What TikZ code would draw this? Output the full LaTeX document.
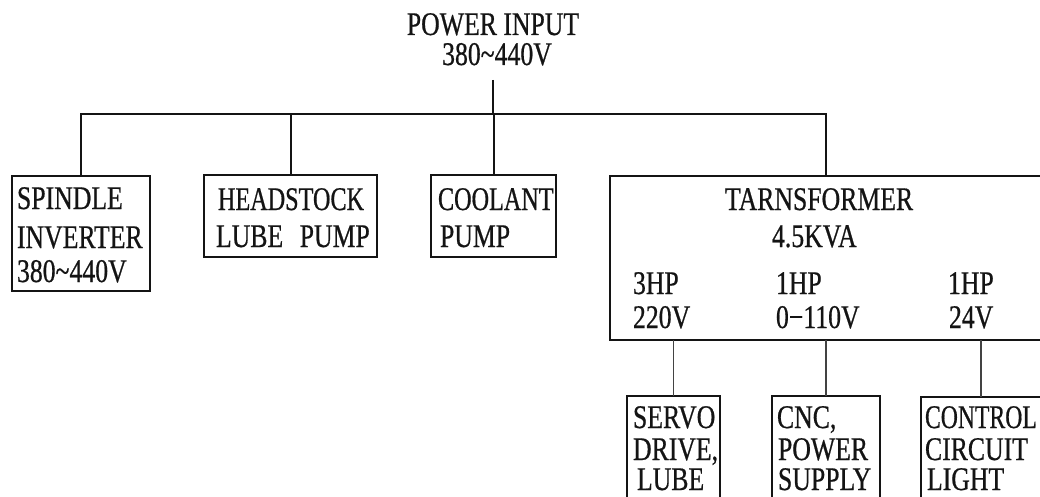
\documentclass[tikz,border=0pt]{standalone}
\usepackage{fontspec}
\setmainfont{Liberation Serif}[FakeStretch=0.78,FakeBold=0.6]
\begin{document}
\begin{tikzpicture}[x=1pt,y=-1pt,
  every node/.style={inner sep=0pt, outer sep=0pt},
  txt/.style={anchor=base west, font=\fontsize{33}{36}\selectfont, text=ink},
  ctxt/.style={anchor=base, font=\fontsize{33}{36}\selectfont, text=ink},
  box/.style={draw=ink, line width=2pt, anchor=north west},
  wire/.style={draw=ink, line width=2pt},
  subwire/.style={draw=ink!80, line width=1.8pt}]
\definecolor{ink}{HTML}{141414}
\useasboundingbox (0,0) rectangle (1040,497);
\clip (0,0) rectangle (1040,497);
\fill[white] (0,0) rectangle (1040,497);

% power input
\node[ctxt] (pin1) at (493,35) {POWER INPUT};
\node[ctxt] (pin2) at (497,65) {380\textasciitilde440V};
\coordinate (src) at (493,80);
\coordinate (bus) at (0,114);

% first level boxes
\node[box, minimum width=138pt, minimum height=115pt] (spindle) at (12,176) {};
\node[box, minimum width=173pt, minimum height=82pt] (head) at (204,175) {};
\node[box, minimum width=125pt, minimum height=82pt] (cool) at (431,175) {};
\node[box, minimum width=432pt, minimum height=164pt] (trans) at (610,176) {};

% second level boxes (cut by the lower edge)
\node[box, minimum width=93pt, minimum height=140pt] (servo) at (627,396) {};
\node[box, minimum width=108pt, minimum height=140pt] (cnc) at (772,396) {};
\node[box, minimum width=120pt, minimum height=140pt] (ctrl) at (921,397) {};

% connectors
\draw[wire] (src) -- (src |- bus);
\draw[wire] (spindle.north) |- (trans.north |- bus) -- (trans.north);
\draw[wire] (head.north) -- (head.north |- bus);
\draw[wire] (cool.north) -- (cool.north |- bus);
\draw[subwire] (servo.north) -- (servo.north |- trans.south);
\draw[subwire] (cnc.north) -- (cnc.north |- trans.south);
\draw[subwire] (ctrl.north) -- (ctrl.north |- trans.south);

% texts
\node[txt] (t1) at (17,209) {SPINDLE};
\node[txt] (t2) at (17,248) {INVERTER};
\node[txt] (t3) at (17,282) {380\textasciitilde440V};

\node[txt] (t4) at (218,210) {\scalebox{0.94}[1]{HEADSTOCK}};
\node[txt] (t5) at (216,247) {LUBE\hspace{0.5em}PUMP};

\node[txt] (t6) at (438,210) {\scalebox{0.94}[1]{COOLANT}};
\node[txt] (t7) at (440,247) {PUMP};

\node[txt] (t8) at (725,210) {TARNSFORMER};
\node[txt] (t9) at (772,247) {4.5KVA};
\node[txt] (t10) at (633,294) {3HP};
\node[txt] (t11) at (633,328) {220V};
\node[txt] (t12) at (776,294) {1HP};
\node[txt] (t13) at (776,328) {0−110V};
\node[txt] (t14) at (948,294) {1HP};
\node[txt] (t15) at (949,328) {24V};

\node[txt] (t16) at (633,428) {SERVO};
\node[txt] (t17) at (633,460) {DRIVE,};
\node[txt] (t18) at (637,490) {LUBE};

\node[txt] (t19) at (777,428) {CNC,};
\node[txt] (t20) at (778,460) {POWER};
\node[txt] (t21) at (778,490) {SUPPLY};

\node[txt] (t22) at (925,428) {\scalebox{0.92}[1]{CONTROL}};
\node[txt] (t23) at (925,460) {CIRCUIT};
\node[txt] (t24) at (927,490) {LIGHT};
\end{tikzpicture}
\end{document}
